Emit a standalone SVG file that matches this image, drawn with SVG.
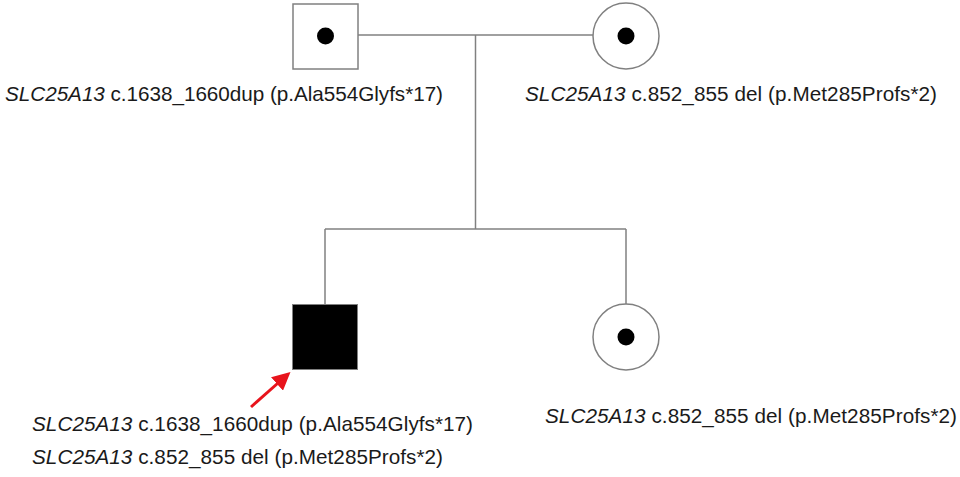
<svg xmlns="http://www.w3.org/2000/svg" width="960" height="477" viewBox="0 0 960 477">
<style>
.ln{stroke:#808080;stroke-width:1.5;fill:none}
.sym{stroke:#808080;stroke-width:1.5;fill:#fff}
.dot{fill:#000}
.lbl{font-family:"Liberation Sans",Arial,sans-serif;font-size:20.7px;fill:#1a1a1a}
.g{font-style:italic}
</style>
<defs>
<marker id="ah" markerWidth="6" markerHeight="6" refX="4" refY="3" orient="auto" markerUnits="strokeWidth">
<path d="M0,0 L6,3 L0,6 Z" fill="#e8141c"/>
</marker>
</defs>
<rect width="960" height="477" fill="#fff"/>
<g id="connectors">
<line class="ln" x1="358" y1="35" x2="593" y2="35"/>
<line class="ln" x1="475.5" y1="35" x2="475.5" y2="229"/>
<line class="ln" x1="325" y1="229" x2="626" y2="229"/>
<line class="ln" x1="325" y1="229" x2="325" y2="304"/>
<line class="ln" x1="626" y1="229" x2="626" y2="304"/>
</g>
<g id="father">
<rect class="sym" x="293" y="4" width="65" height="65"/>
<circle class="dot" cx="325.5" cy="36" r="8.5"/>
<text class="lbl" x="5" y="101" textLength="438"><tspan class="g">SLC25A13</tspan> c.1638_1660dup (p.Ala554Glyfs*17)</text>
</g>
<g id="mother">
<circle class="sym" cx="626" cy="36" r="33"/>
<circle class="dot" cx="626" cy="36" r="8.5"/>
<text class="lbl" x="525" y="101" textLength="412"><tspan class="g">SLC25A13</tspan> c.852_855 del (p.Met285Profs*2)</text>
</g>
<g id="proband">
<rect x="292.5" y="304.5" width="65" height="65" fill="#000" stroke="#808080" stroke-width="1"/>
<line x1="251" y1="407" x2="286" y2="376" stroke="#e8141c" stroke-width="3" marker-end="url(#ah)"/>
<text class="lbl" x="32" y="431" textLength="441"><tspan class="g">SLC25A13</tspan> c.1638_1660dup (p.Ala554Glyfs*17)</text>
<text class="lbl" x="32" y="464" textLength="411"><tspan class="g">SLC25A13</tspan> c.852_855 del (p.Met285Profs*2)</text>
</g>
<g id="daughter">
<circle class="sym" cx="626" cy="337" r="33"/>
<circle class="dot" cx="626" cy="337" r="8.5"/>
<text class="lbl" x="545" y="423" textLength="412"><tspan class="g">SLC25A13</tspan> c.852_855 del (p.Met285Profs*2)</text>
</g>
</svg>
